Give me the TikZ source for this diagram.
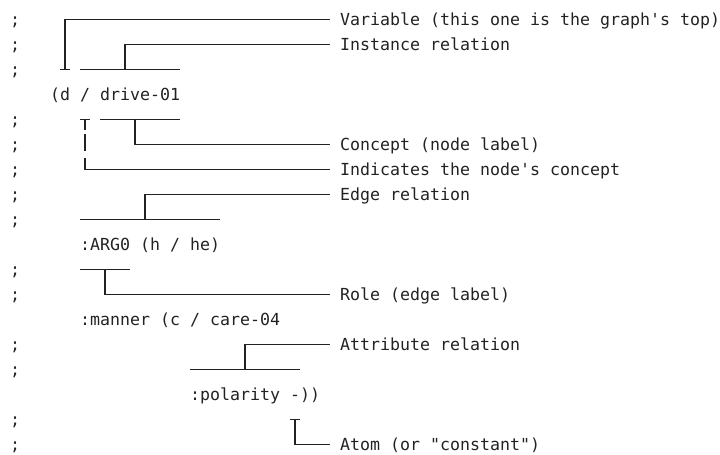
\documentclass[tikz,border=0pt]{standalone}
\usepackage{fontspec}
\setmonofont{DejaVu Sans Mono}
\definecolor{ink}{HTML}{222222}
\tikzset{
  txt/.style={font=\ttfamily\fontsize{16.61pt}{25pt}\selectfont, text=ink,
    inner sep=0pt, text height=12pt, text depth=0pt, anchor=west},
  bx/.style={draw=ink, line width=1.2pt},
}
\begin{document}
\begin{tikzpicture}[x=1pt,y=-1pt]
\useasboundingbox (0,2.5) rectangle (720,457.5);
% comment markers
\foreach \r in {1,2,3,5,6,7,8,9,11,12,14,15,17,18}
  \node[txt] (semi\r) at (10,{21.7+25*(\r-1)}) {;};
% code lines
\node[txt] (top)    at (50,96.7)   {(d / drive-01};
\node[txt] (arg0)   at (80,246.7)  {:ARG0 (h / he)};
\node[txt] (manner) at (80,321.7)  {:manner (c / care-04};
\node[txt] (pol)    at (190,396.7) {:polarity -))};
% labels
\node[txt] (lvar)  at (340,21.7)  {Variable (this one is the graph's top)};
\node[txt] (linst) at (340,46.7)  {Instance relation};
\node[txt] (lconc) at (340,146.7) {Concept (node label)};
\node[txt] (lind)  at (340,171.7) {Indicates the node's concept};
\node[txt] (ledge) at (340,196.7) {Edge relation};
\node[txt] (lrole) at (340,296.7) {Role (edge label)};
\node[txt] (lattr) at (340,346.7) {Attribute relation};
\node[txt] (latom) at (340,446.7) {Atom (or "constant")};
% anchor points in the code
\coordinate (pvar)  at (65,71.7);
\coordinate (pinst) at (125,71.7);
\coordinate (pconc) at (135,121.7);
\coordinate (pind)  at (85,121.7);
\coordinate (pedge) at (145,221.7);
\coordinate (prole) at (105,271.7);
\coordinate (pattr) at (245,371.7);
\coordinate (patom) at (295,421.7);
% underline brackets and ticks
\draw[bx] (60,71.7) -- (70,71.7);
\draw[bx] (80,71.7) -- (180,71.7);
\draw[bx] (80,121.7) -- (90,121.7);
\draw[bx] (100,121.7) -- (180,121.7);
\draw[bx] (80,221.7) -- (220,221.7);
\draw[bx] (80,271.7) -- (130,271.7);
\draw[bx] (190,371.7) -- (300,371.7);
\draw[bx] (290,421.7) -- (300,421.7);
% connectors
\draw[bx] (pvar)  |- ([xshift=-10pt]lvar.west);
\draw[bx] (pinst) |- ([xshift=-10pt]linst.west);
\draw[bx] (pconc) |- ([xshift=-10pt]lconc.west);
\draw[bx] (pind) -- (85,132);
\draw[bx] (85,136.7) -- (85,153.5);
\draw[bx] (85,160) |- ([xshift=-10pt]lind.west);
\draw[bx] (pedge) |- ([xshift=-10pt]ledge.west);
\draw[bx] (prole) |- ([xshift=-10pt]lrole.west);
\draw[bx] (pattr) |- ([xshift=-10pt]lattr.west);
\draw[bx] (patom) |- ([xshift=-10pt]latom.west);
\end{tikzpicture}
\end{document}
